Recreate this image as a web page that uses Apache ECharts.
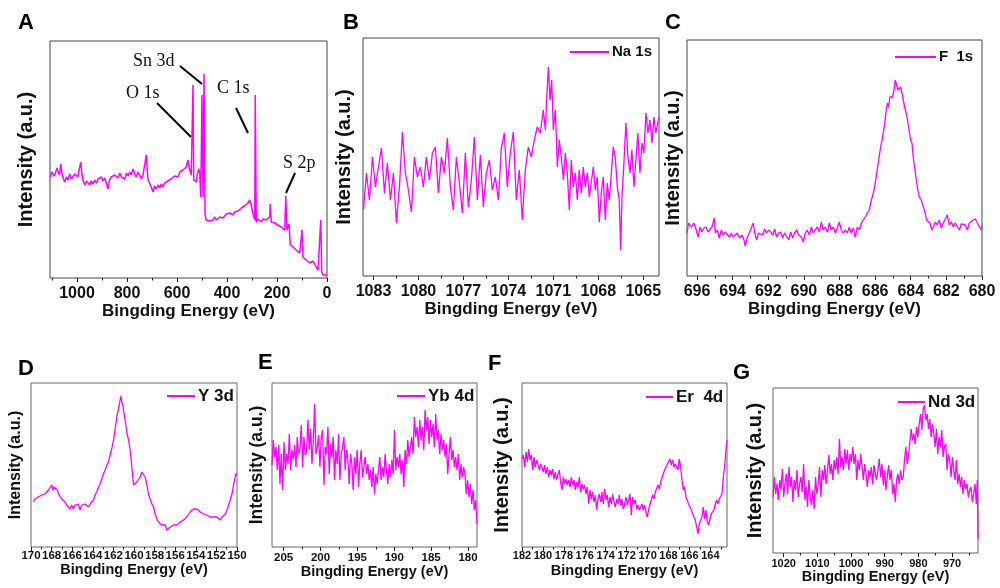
<!DOCTYPE html>
<html><head><meta charset="utf-8">
<script src="https://cdn.jsdelivr.net/npm/echarts@6/dist/echarts.min.js"></script>
<style>html,body{margin:0;padding:0;background:#fff}#c{width:1000px;height:588px}</style>
</head><body><div id="c"></div>
<script>
// ---- data: [binding energy (eV), intensity (a.u.)] ----
const surveyA = [[1107,101],[1101,106],[1096,108],[1090,102],[1085,104],[1080,110],[1076,107],[1070,103],[1065,114],[1059,103],[1054,99],[1049,96],[1043,101],[1036,98],[1029,104],[1022,99],[1016,101],[1009,104],[1003,106],[997,101],[992,103],[985,116],[979,101],[974,96],[969,93],[962,97],[956,96],[949,93],[943,97],[936,94],[929,98],[922,95],[916,99],[909,98],[902,101],[896,97],[889,100],[883,99],[876,89],[870,98],[863,101],[856,99],[849,103],[843,104],[836,100],[829,105],[822,101],[816,103],[809,99],[802,105],[796,102],[789,106],[783,103],[776,109],[769,104],[763,101],[756,106],[749,104],[742,99],[736,103],[729,101],[723,123],[716,98],[710,95],[703,91],[696,86],[690,92],[683,89],[676,93],[669,90],[663,94],[656,91],[649,95],[643,93],[636,97],[629,96],[623,99],[616,98],[609,102],[603,103],[596,101],[589,106],[583,106],[576,108],[569,110],[563,111],[556,118],[549,108],[543,103],[539,104],[536,193],[533,98],[528,100],[523,96],[518,104],[513,109],[509,105],[505,81],[500,183],[496,81],[492,204],[488,64],[483,58],[476,60],[469,57],[463,59],[456,58],[449,61],[443,58],[436,60],[429,61],[423,63],[416,60],[409,62],[403,64],[396,62],[389,65],[383,63],[376,63],[369,66],[363,64],[356,67],[349,68],[343,70],[336,69],[329,72],[323,73],[316,75],[309,78],[303,73],[296,64],[289,58],[287,183],[283,56],[276,59],[269,58],[262,56],[256,59],[249,57],[243,58],[236,60],[229,61],[227,74],[223,56],[216,57],[209,55],[203,54],[196,53],[189,52],[183,51],[176,50],[169,48],[165,82],[160,48],[156,51],[152,54],[147,33],[141,34],[136,31],[129,30],[123,28],[116,27],[109,25],[103,23],[100,48],[96,21],[89,20],[83,18],[76,17],[69,15],[63,14],[56,17],[49,16],[43,11],[36,8],[29,6],[25,58],[21,6],[16,3],[8,4],[0,3]];

const na1sB = [[1083.67,66],[1083.47,103],[1083.27,76],[1083.07,119],[1082.87,89],[1082.67,109],[1082.47,128],[1082.27,83],[1082.07,113],[1081.87,76],[1081.67,103],[1081.47,53],[1081.27,89],[1081.07,144],[1080.87,103],[1080.67,86],[1080.47,64],[1080.27,119],[1080.07,99],[1079.87,109],[1079.67,89],[1079.47,119],[1079.27,96],[1079.07,123],[1078.87,129],[1078.67,83],[1078.47,119],[1078.27,103],[1078.07,138],[1077.87,89],[1077.67,66],[1077.47,119],[1077.27,93],[1077.07,63],[1076.87,123],[1076.67,69],[1076.47,96],[1076.27,139],[1076.07,76],[1075.87,121],[1075.67,69],[1075.47,103],[1075.27,116],[1075.07,86],[1074.87,99],[1074.67,76],[1074.47,128],[1074.27,143],[1074.07,89],[1073.87,123],[1073.67,144],[1073.47,76],[1073.27,106],[1073.07,56],[1072.87,106],[1072.67,129],[1072.47,119],[1072.27,136],[1072.07,149],[1071.87,143],[1071.67,166],[1071.53,146],[1071.44,179],[1071.33,209],[1071.22,176],[1071.11,196],[1071.00,146],[1070.87,166],[1070.73,109],[1070.60,136],[1070.47,119],[1070.33,96],[1070.20,123],[1070.07,103],[1069.93,66],[1069.80,116],[1069.67,89],[1069.53,103],[1069.40,76],[1069.27,106],[1069.13,83],[1069.00,109],[1068.87,89],[1068.73,103],[1068.60,79],[1068.47,94],[1068.33,109],[1068.20,86],[1068.07,99],[1067.93,54],[1067.80,83],[1067.67,99],[1067.53,56],[1067.40,93],[1067.27,76],[1067.13,103],[1067.00,129],[1066.87,119],[1066.73,89],[1066.60,76],[1066.51,26],[1066.42,79],[1066.29,113],[1066.16,153],[1066.02,119],[1065.89,103],[1065.76,126],[1065.62,89],[1065.49,116],[1065.36,143],[1065.22,103],[1065.09,133],[1064.96,123],[1064.82,163],[1064.69,143],[1064.56,156],[1064.42,133],[1064.29,159],[1064.16,143],[1063.96,159]];

const f1sC = [[696.56,43],[696.47,53],[696.32,49],[696.17,53],[696.04,46],[695.94,39],[695.83,49],[695.72,44],[695.61,48],[695.49,49],[695.38,44],[695.27,46],[695.16,49],[695.03,58],[694.97,43],[694.86,46],[694.75,38],[694.63,46],[694.52,41],[694.41,44],[694.30,43],[694.18,39],[694.07,43],[693.96,39],[693.85,41],[693.74,43],[693.60,38],[693.47,41],[693.36,36],[693.29,30],[693.17,39],[693.04,44],[692.95,48],[692.84,53],[692.76,43],[692.65,36],[692.54,43],[692.43,44],[692.31,41],[692.20,47],[692.09,43],[691.98,46],[691.86,44],[691.75,41],[691.64,47],[691.53,39],[691.42,43],[691.30,44],[691.19,38],[691.08,43],[690.97,41],[690.85,36],[690.74,44],[690.63,38],[690.52,43],[690.40,46],[690.29,41],[690.14,39],[690.03,34],[689.92,43],[689.81,46],[689.69,41],[689.58,49],[689.47,43],[689.36,46],[689.24,49],[689.13,44],[689.02,54],[688.91,46],[688.80,49],[688.68,44],[688.57,53],[688.46,46],[688.35,49],[688.23,43],[688.12,48],[688.01,54],[687.90,46],[687.79,43],[687.67,46],[687.56,43],[687.45,49],[687.34,43],[687.22,48],[687.11,39],[687.00,49],[686.89,46],[686.77,53],[686.66,53],[686.55,59],[686.44,63],[686.33,66],[686.21,76],[686.10,83],[686.03,89],[685.91,103],[685.80,116],[685.69,129],[685.58,139],[685.46,153],[685.39,164],[685.31,173],[685.24,169],[685.17,179],[685.09,181],[685.02,179],[684.94,186],[684.87,196],[684.79,191],[684.72,186],[684.64,188],[684.57,189],[684.49,183],[684.42,176],[684.34,169],[684.23,161],[684.12,149],[684.01,136],[683.93,133],[683.86,119],[683.74,103],[683.63,89],[683.52,79],[683.41,76],[683.29,69],[683.18,63],[683.11,56],[683.03,58],[682.92,53],[682.81,46],[682.73,49],[682.62,54],[682.51,51],[682.40,56],[682.28,48],[682.17,53],[682.06,54],[681.95,61],[681.83,51],[681.72,54],[681.61,49],[681.50,53],[681.39,54],[681.27,46],[681.16,52],[681.05,53],[680.94,51],[680.82,46],[680.71,53],[680.60,54],[680.49,56],[680.37,57],[680.26,53],[680.15,51],[680.04,46],[680.00,51]];

const y3dD = [[169.77,45],[169.61,48],[169.45,47],[169.29,50],[169.12,48],[168.96,52],[168.80,50],[168.64,53],[168.48,55],[168.31,57],[168.15,58],[167.99,62],[167.89,57],[167.76,60],[167.57,58],[167.44,57],[167.31,53],[167.18,52],[167.02,48],[166.86,47],[166.69,45],[166.53,42],[166.37,40],[166.21,38],[166.05,42],[165.88,38],[165.72,42],[165.56,40],[165.40,43],[165.24,37],[165.07,42],[164.91,40],[164.75,43],[164.59,42],[164.42,40],[164.26,43],[164.10,45],[163.94,47],[163.78,52],[163.61,55],[163.45,60],[163.29,63],[163.13,68],[162.97,73],[162.80,77],[162.64,82],[162.48,85],[162.32,92],[162.16,98],[161.99,107],[161.83,118],[161.67,130],[161.51,138],[161.41,143],[161.28,151],[161.18,145],[161.09,142],[160.96,133],[160.83,125],[160.70,115],[160.53,107],[160.37,97],[160.21,80],[160.05,62],[159.89,63],[159.72,65],[159.56,67],[159.40,70],[159.24,75],[159.08,77],[158.91,70],[158.75,62],[158.59,53],[158.43,48],[158.27,43],[158.10,40],[157.94,33],[157.78,28],[157.62,25],[157.46,23],[157.29,22],[157.13,20],[156.97,22],[156.81,17],[156.65,16],[156.48,20],[156.32,18],[156.16,22],[156.00,20],[155.83,22],[155.67,22],[155.51,25],[155.35,25],[155.19,27],[155.02,28],[154.86,30],[154.70,32],[154.54,35],[154.38,37],[154.21,38],[154.05,37],[153.89,38],[153.73,37],[153.57,35],[153.40,37],[153.24,33],[153.08,33],[152.92,32],[152.76,30],[152.59,30],[152.43,32],[152.27,30],[152.11,28],[151.95,30],[151.78,28],[151.62,27],[151.46,30],[151.30,32],[151.13,33],[150.97,37],[150.81,42],[150.65,47],[150.49,53],[150.32,63],[150.23,67],[150.13,73],[150.00,72]];

const yb4dE = [[206.58,82],[206.40,107],[206.22,90],[206.04,100],[205.86,77],[205.68,102],[205.50,63],[205.32,93],[205.14,57],[204.95,105],[204.77,77],[204.59,93],[204.41,83],[204.23,113],[204.05,77],[203.87,97],[203.69,88],[203.51,102],[203.33,80],[203.15,110],[202.97,93],[202.79,98],[202.61,122],[202.43,80],[202.25,110],[202.07,92],[201.89,95],[201.71,127],[201.53,97],[201.34,118],[201.16,83],[200.98,105],[200.80,143],[200.62,93],[200.44,100],[200.26,112],[200.08,80],[199.90,110],[199.72,117],[199.54,62],[199.36,100],[199.18,93],[199.00,120],[198.82,73],[198.64,103],[198.46,90],[198.28,110],[198.10,67],[197.92,97],[197.73,83],[197.55,113],[197.37,67],[197.19,93],[197.01,100],[196.83,110],[196.65,77],[196.47,97],[196.29,87],[196.11,63],[195.93,93],[195.75,83],[195.57,57],[195.39,90],[195.21,73],[195.03,97],[194.85,60],[194.67,83],[194.49,97],[194.30,70],[194.12,80],[193.94,90],[193.76,73],[193.58,83],[193.40,67],[193.22,77],[193.04,60],[192.86,80],[192.68,53],[192.50,73],[192.32,63],[192.14,77],[191.96,90],[191.78,67],[191.60,80],[191.42,70],[191.24,93],[191.06,77],[190.88,63],[190.69,83],[190.51,70],[190.33,87],[190.15,73],[189.97,117],[189.79,77],[189.61,90],[189.43,80],[189.25,93],[189.07,73],[188.89,87],[188.71,60],[188.53,97],[188.35,83],[188.17,107],[187.99,90],[187.81,100],[187.63,110],[187.45,93],[187.27,130],[187.08,110],[186.90,120],[186.72,100],[186.54,127],[186.36,107],[186.18,120],[186.00,97],[185.82,137],[185.64,117],[185.46,130],[185.28,103],[185.10,127],[184.92,110],[184.74,123],[184.56,100],[184.38,133],[184.20,107],[184.02,117],[183.84,93],[183.65,113],[183.47,97],[183.29,107],[183.11,90],[182.93,103],[182.75,73],[182.57,93],[182.39,110],[182.21,87],[182.03,97],[181.85,80],[181.67,90],[181.49,77],[181.31,93],[181.13,67],[180.95,83],[180.77,70],[180.59,80],[180.41,73],[180.23,53],[180.05,67],[179.86,50],[179.68,63],[179.50,43],[179.32,57],[179.14,37],[178.96,47],[178.78,23]];

const er4dF = [[182.00,88],[181.87,92],[181.75,80],[181.62,95],[181.49,85],[181.36,98],[181.24,87],[181.11,92],[180.98,77],[180.85,90],[180.73,80],[180.60,87],[180.47,88],[180.34,77],[180.22,83],[180.09,80],[179.96,75],[179.83,82],[179.71,73],[179.58,80],[179.45,70],[179.32,77],[179.20,72],[179.07,78],[178.94,68],[178.82,75],[178.69,67],[178.56,73],[178.43,77],[178.31,65],[178.18,57],[178.05,70],[177.92,63],[177.80,68],[177.67,62],[177.54,67],[177.41,60],[177.29,70],[177.16,62],[177.03,67],[176.90,57],[176.78,65],[176.65,60],[176.52,70],[176.39,55],[176.27,63],[176.14,58],[176.01,62],[175.89,53],[175.76,60],[175.63,43],[175.50,57],[175.38,48],[175.25,55],[175.12,45],[174.99,52],[174.87,37],[174.74,48],[174.61,53],[174.48,45],[174.36,55],[174.23,43],[174.10,58],[173.97,47],[173.85,52],[173.72,40],[173.59,50],[173.46,43],[173.34,53],[173.21,45],[173.08,40],[172.96,48],[172.83,43],[172.70,52],[172.57,42],[172.45,48],[172.32,38],[172.19,43],[172.06,50],[171.94,42],[171.81,47],[171.68,53],[171.55,32],[171.43,50],[171.30,43],[171.17,47],[171.04,38],[170.92,42],[170.79,37],[170.66,40],[170.54,43],[170.41,37],[170.28,42],[170.15,35],[170.03,30],[169.90,37],[169.77,43],[169.64,47],[169.52,52],[169.39,48],[169.26,55],[169.13,53],[169.01,62],[168.88,58],[168.75,65],[168.62,67],[168.50,73],[168.37,77],[168.24,80],[168.11,83],[167.99,85],[167.86,88],[167.73,82],[167.61,87],[167.48,80],[167.35,83],[167.22,85],[167.10,77],[166.97,88],[166.84,80],[166.71,67],[166.59,57],[166.46,60],[166.33,50],[166.20,52],[166.08,43],[165.95,45],[165.82,37],[165.69,38],[165.57,30],[165.44,27],[165.31,20],[165.18,13],[165.06,23],[164.93,27],[164.80,30],[164.68,40],[164.55,28],[164.42,37],[164.29,25],[164.17,22],[164.04,23],[163.91,33],[163.78,32],[163.66,37],[163.53,43],[163.40,47],[163.27,43],[163.15,48],[163.02,50],[162.89,53],[162.76,70],[162.64,80],[162.51,97],[162.41,107]];

const nd3dG = [[1023.16,56],[1022.76,76],[1022.37,59],[1021.97,69],[1021.58,53],[1021.18,73],[1020.79,63],[1020.39,84],[1020.00,56],[1019.61,69],[1019.21,79],[1018.82,59],[1018.42,86],[1018.03,66],[1017.63,76],[1017.24,51],[1016.84,73],[1016.45,63],[1016.06,83],[1015.66,56],[1015.27,69],[1014.87,76],[1014.48,61],[1014.08,89],[1013.69,53],[1013.29,66],[1012.90,46],[1012.50,73],[1012.11,56],[1011.72,48],[1011.32,63],[1010.93,44],[1010.53,76],[1010.14,59],[1009.74,69],[1009.35,86],[1008.95,56],[1008.56,83],[1008.17,73],[1007.77,88],[1007.38,69],[1006.98,83],[1006.59,98],[1006.19,79],[1005.80,89],[1005.40,73],[1005.01,93],[1004.62,83],[1004.22,96],[1003.83,79],[1003.43,114],[1003.04,86],[1002.64,96],[1002.25,83],[1001.85,104],[1001.46,89],[1001.07,103],[1000.67,83],[1000.28,99],[999.88,91],[999.49,106],[999.09,89],[998.70,99],[998.30,73],[997.91,93],[997.51,83],[997.12,99],[996.73,86],[996.33,73],[995.94,89],[995.54,79],[995.15,66],[994.75,83],[994.36,76],[993.96,86],[993.57,69],[993.18,88],[992.78,79],[992.39,73],[991.99,83],[991.60,94],[991.20,76],[990.81,89],[990.41,68],[990.02,83],[989.63,63],[989.23,76],[988.84,88],[988.44,73],[988.05,83],[987.65,59],[987.26,69],[986.86,51],[986.47,73],[986.08,79],[985.68,69],[985.29,83],[984.89,73],[984.50,76],[984.10,94],[983.71,106],[983.31,89],[982.92,99],[982.52,111],[982.13,124],[981.74,113],[981.34,119],[980.95,109],[980.55,126],[980.16,116],[979.76,129],[979.37,139],[978.97,123],[978.58,144],[978.19,148],[977.79,133],[977.40,139],[977.00,124],[976.61,134],[976.21,116],[975.82,129],[975.42,119],[975.03,106],[974.64,124],[974.24,99],[973.85,116],[973.45,106],[973.06,123],[972.66,96],[972.27,106],[971.87,109],[971.48,83],[971.09,99],[970.69,93],[970.30,76],[969.90,96],[969.51,83],[969.11,73],[968.72,93],[968.32,69],[967.93,79],[967.53,66],[967.14,76],[966.75,59],[966.35,73],[965.96,64],[965.56,69],[965.17,56],[964.77,63],[964.38,66],[963.98,51],[963.59,59],[963.19,69],[962.80,49],[962.50,73],[962.30,14]];

// ---- tick labels (major) and minor tick positions ----
const ticksA = [0,200,400,600,800,1000];
const minorA = [100,300,500,700,900,1100];
const ticksB = [1065,1068,1071,1074,1077,1080,1083];
const minorB = [1066.5,1069.5,1072.5,1075.5,1078.5,1081.5];
const ticksC = [680,682,684,686,688,690,692,694,696];
const minorC = [681,683,685,687,689,691,693,695];
const ticksD = [150,152,154,156,158,160,162,164,166,168,170];
const minorD = [151,153,155,157,159,161,163,165,167,169];
const ticksE = [180,185,190,195,200,205];
const minorE = [182.5,187.5,192.5,197.5,202.5];
const ticksF = [164,166,168,170,172,174,176,178,180,182];
const minorF = [163,165,167,169,171,173,175,177,179,181];
const ticksG = [970,980,990,1000,1010,1020];
const minorG = [965,975,985,995,1005,1015];

const seriesNames = ['Survey','Na 1s','F  1s','Y 3d','Yb 4d','Er  4d','Nd 3d'];

// ---- layout ----
const FONT = '"Liberation Sans", Arial, sans-serif';
const MAG = '#ff00ff';
const panels = [
  {data: surveyA, ticks: ticksA, minor: minorA, min: 0, max: 1108, ymax: 237, grid:{left:50,top:41,width:277,height:237}, tickFs:16, lblMargin:8, titleFs:17, nameGap:24, yFs:20, yGap:14, border:'#444', lw:1.5},
  {data: na1sB, ticks: ticksB, minor: minorB, min: 1063.95, max: 1083.7, ymax: 238, grid:{left:363,top:38,width:296,height:238}, tickFs:16, lblMargin:8, titleFs:17, nameGap:25, yFs:20, yGap:9, border:'#444', lw:1.3},
  {data: f1sC, ticks: ticksC, minor: minorC, min: 680, max: 696.56, ymax: 236, grid:{left:687,top:40,width:295,height:236}, tickFs:16, lblMargin:8, titleFs:17, nameGap:25, yFs:20, yGap:4, border:'#444', lw:1.3},
  {data: y3dD, ticks: ticksD, minor: minorD, min: 150, max: 170, ymax: 164, grid:{left:31,top:383,width:206,height:164}, tickFs:11.5, lblMargin:3, titleFs:14.5, nameGap:14, yFs:16, yGap:7, border:'#666', lw:1.3},
  {data: yb4dE, ticks: ticksE, minor: minorE, min: 178.78, max: 206.58, ymax: 164, grid:{left:272,top:383,width:205,height:164}, tickFs:11.5, lblMargin:5, titleFs:14.5, nameGap:15, yFs:17.5, yGap:6, border:'#666', lw:1.3},
  {data: er4dF, ticks: ticksF, minor: minorF, min: 162.41, max: 182, ymax: 164, grid:{left:522,top:383,width:205,height:164}, tickFs:11, lblMargin:3, titleFs:14.5, nameGap:16, yFs:20, yGap:10, border:'#666', lw:1.3},
  {data: nd3dG, ticks: ticksG, minor: minorG, min: 962.3, max: 1023.16, ymax: 165, grid:{left:773,top:388,width:205,height:165}, tickFs:11, lblMargin:5, titleFs:14.5, nameGap:15, yFs:20, yGap:8, border:'#666', lw:1.3}
];

const legendsCfg = [
  {name:'Na 1s', left:570, cy:52, w:39, fs:15},
  {name:'F  1s', left:895, cy:57, w:41, fs:15},
  {name:'Y 3d', left:167, cy:396, w:28, fs:17},
  {name:'Yb 4d', left:397, cy:396, w:28, fs:17},
  {name:'Er  4d', left:646, cy:397, w:27, fs:17},
  {name:'Nd 3d', left:898, cy:402, w:27, fs:17}
];

const grid = [], xAxis = [], yAxis = [], series = [];
panels.forEach((p, i) => {
  grid.push(Object.assign({show:true, borderColor:p.border, borderWidth:1, backgroundColor:'rgba(0,0,0,0)'}, p.grid));
  xAxis.push({
    type:'value', gridIndex:i, min:p.min, max:p.max, inverse:true,
    axisLine:{show:false}, splitLine:{show:false},
    axisTick:{show:true, customValues:p.ticks, length:4, lineStyle:{color:'#222', width:1}},
    axisLabel:{show:true, customValues:p.ticks, margin:p.lblMargin, color:'#111', fontWeight:'bold', fontFamily:FONT, fontSize:p.tickFs, hideOverlap:false, formatter: v => String(v)},
    name:'Bingding Energy (eV)', nameLocation:'middle', nameGap:p.nameGap,
    nameTextStyle:{color:'#111', fontWeight:'bold', fontFamily:FONT, fontSize:p.titleFs, verticalAlign:'top'}
  });
  yAxis.push({
    type:'value', gridIndex:i, min:0, max:p.ymax,
    axisLine:{show:false}, axisTick:{show:false}, axisLabel:{show:false}, splitLine:{show:false},
    name:'Intensity (a.u.)', nameLocation:'middle', nameRotate:90, nameGap:p.yGap,
    nameTextStyle:{color:'#111', fontWeight:'bold', fontFamily:FONT, fontSize:p.yFs}
  });
  series.push({
    name: seriesNames[i], type:'line', xAxisIndex:i, yAxisIndex:i, data:p.data,
    showSymbol:false, symbol:'none', lineStyle:{color:MAG, width:p.lw}, itemStyle:{color:MAG},
    animation:false, silent:true
  });
});
// minor tick axes
panels.forEach((p, i) => {
  xAxis.push({
    type:'value', gridIndex:i, min:p.min, max:p.max, inverse:true, position:'bottom',
    axisLine:{show:false}, splitLine:{show:false}, axisLabel:{show:false},
    axisTick:{show:true, customValues:p.minor, length:2.5, lineStyle:{color:'#222', width:1}}
  });
});

const legend = legendsCfg.map(l => ({
  data:[l.name], left:l.left, top:l.cy - (l.fs + 2) / 2, padding:0, icon:'rect',
  itemWidth:l.w, itemHeight:2, itemGap:0, selectedMode:false,
  textStyle:{color:'#111', fontWeight:'bold', fontFamily:FONT, fontSize:l.fs, lineHeight:l.fs + 2, padding:[0,0,0,-2]}
}));

const letters = [['A',18,12],['B',343,12],['C',665,12],['D',18,358],['E',258,352],['F',488,353],['G',733,362]];
const graphic = letters.map(([t,x,y]) => ({type:'text', left:x, top:y, style:{text:t, fill:'#000', font:'bold 22px ' + FONT}}));
const SERIF = '"Liberation Serif", "Times New Roman", serif';
[['Sn 3d',133,52],['O 1s',126,84],['C 1s',217,79],['S 2p',283,154]].forEach(([t,x,y]) => {
  graphic.push({type:'text', left:x, top:y, style:{text:t, fill:'#111', font:'18px ' + SERIF}});
});
[[180,66,202,84],[157,103,191,137],[236,108,248,133],[295,173,286,193]].forEach(([x1,y1,x2,y2]) => {
  graphic.push({type:'line', shape:{x1,y1,x2,y2}, style:{stroke:'#000', lineWidth:2}});
});

const chart = echarts.init(document.getElementById('c'), null, {renderer:'canvas'});
chart.setOption({animation:false, backgroundColor:'#fff', grid, xAxis, yAxis, series, legend, graphic});
</script></body></html>
